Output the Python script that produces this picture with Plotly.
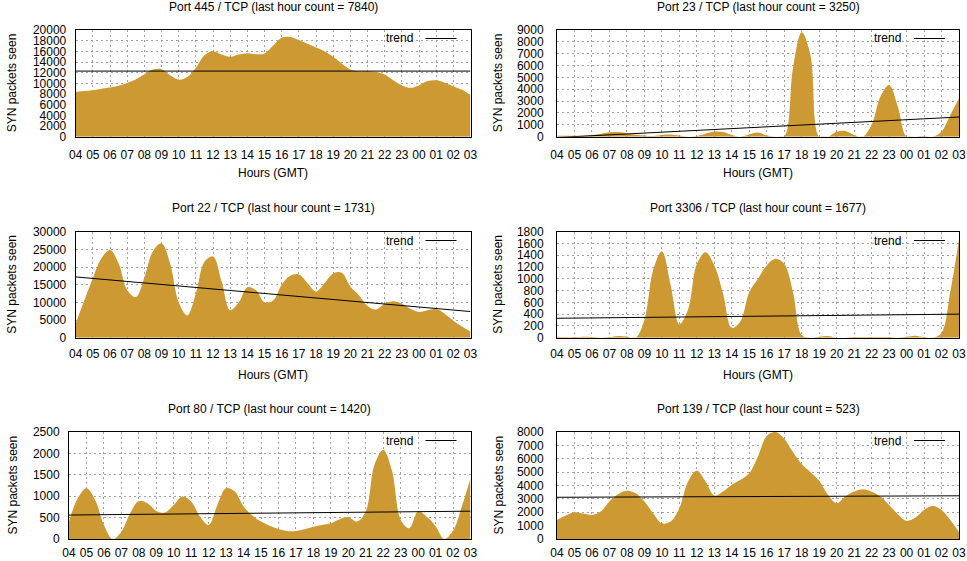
import plotly.graph_objects as go

# ---------------- data ----------------
hour_labels = ["04", "05", "06", "07", "08", "09", "10", "11", "12", "13", "14", "15",
               "16", "17", "18", "19", "20", "21", "22", "23", "00", "01", "02", "03"]
hour_ticks = list(range(24))

# samples every half hour, hours since 04:00 GMT
sample_hours = [0, 0.5, 1, 1.5, 2, 2.5, 3, 3.5, 4, 4.5, 5, 5.5, 6, 6.5, 7, 7.5, 8, 8.5,
                9, 9.5, 10, 10.5, 11, 11.5, 12, 12.5, 13, 13.5, 14, 14.5, 15, 15.5, 16,
                16.5, 17, 17.5, 18, 18.5, 19, 19.5, 20, 20.5, 21, 21.5, 22, 22.5, 23]

port445 = [8400, 8550, 8700, 9000, 9200, 9550, 10060, 10700, 11700, 12580, 12640, 11500,
           10700, 11200, 12900, 15280, 16040, 15400, 14970, 15400, 15660, 15470, 15600,
           17040, 18550, 18680, 18110, 17420, 16730, 16040, 14970, 13700, 12580, 12260,
           12260, 12140, 11640, 10570, 9620, 9180, 9620, 10440, 10570, 10130, 9430, 8800, 7840]

port23 = [80, 80, 80, 80, 150, 230, 370, 400, 280, 170, 110, 60, 150, 180, 100, 0, 50, 250,
          430, 400, 150, 0, 200, 350, 110, 0, 0, 5765, 8800, 6900, 0, 0, 420, 480, 140, 0,
          1000, 3370, 4360, 2530, 0, 0, 60, 0, 420, 1830, 3250]

port22 = [4000, 10500, 16900, 22500, 24800, 21000, 13500, 11500, 17000, 24500, 26700, 21000,
          10000, 6300, 12500, 21500, 23000, 16000, 7800, 10000, 14300, 13500, 10000, 10500,
          15000, 17500, 17900, 15500, 13100, 15500, 18200, 18400, 14500, 12000, 9000, 8000,
          9600, 10300, 9600, 8200, 7300, 7800, 8100, 6800, 4800, 3200, 1731]

port3306 = [15, 10, 10, 15, 10, 0, 10, 30, 20, 0, 300, 1150, 1470, 900, 230, 480, 1250,
            1450, 1230, 750, 165, 280, 776, 1000, 1226, 1340, 1254, 776, 45, 0, 17, 30, 0,
            0, 12, 12, 12, 12, 12, 0, 15, 35, 10, 0, 80, 776, 1677]

port80 = [406, 953, 1187, 914, 328, 0, 170, 600, 890, 836, 656, 620, 797, 992, 875, 523,
          328, 797, 1187, 1109, 758, 547, 406, 312, 234, 188, 188, 227, 289, 328, 367, 461,
          516, 406, 640, 1734, 2086, 1600, 450, 250, 640, 520, 300, 0, 190, 758, 1420]

port139 = [1425, 1750, 2000, 1900, 1800, 2050, 2800, 3350, 3600, 3425, 2800, 1925, 1175,
           1300, 2300, 4300, 5100, 4300, 3250, 3550, 4050, 4425, 4925, 6175, 7700, 8000,
           7500, 6500, 5600, 5000, 4350, 3300, 2675, 3175, 3550, 3725, 3550, 3175, 2550,
           1850, 1350, 1600, 2175, 2475, 2175, 1425, 523]

titles = ["Port 445 / TCP (last hour count = 7840)", "Port 23 / TCP (last hour count = 3250)",
          "Port 22 / TCP (last hour count = 1731)", "Port 3306 / TCP (last hour count = 1677)",
          "Port 80 / TCP (last hour count = 1420)", "Port 139 / TCP (last hour count = 523)"]
series = [port445, port23, port22, port3306, port80, port139]
trend_start = [12300, -70, 17200, 330, 560, 3120]
trend_end = [12300, 1660, 7400, 400, 650, 3230]
y_max = [20000, 9000, 30000, 1800, 2500, 8000]
y_step = [2000, 1000, 5000, 200, 500, 1000]

# ---------------- layout ----------------
W, H = 967, 561
FILL = "#cc9933"
FONT = "Liberation Sans, Arial, sans-serif"
# plot-area pixel boxes: left, top, right, bottom
boxes = [(75.7, 30, 470.5, 136.7), (557, 30, 959, 136.7),
         (75.7, 231.7, 470.5, 337.7), (557, 231.7, 959, 337.7),
         (69, 432, 470.5, 539), (557, 432, 959, 539)]
title_y = [7, 7, 208.3, 208.3, 409, 409]
ylab_x = [12, 498, 12, 498, 12, 498]
xtitle_y = [173, 173, 375, 375, None, None]
xlab_standoff = [7, 7, 5, 5, 3, 3]


def px(x):
    return x / W


def py(y):
    return 1 - y / H


fig = go.Figure()
layout = dict(width=W, height=H, margin=dict(l=0, r=0, t=0, b=0, autoexpand=False),
              paper_bgcolor="white", plot_bgcolor="white", showlegend=False,
              font=dict(family=FONT, size=12, color="black"))
annotations = []
shapes = []

for i in range(6):
    n = i + 1
    xa = "x" if n == 1 else f"x{n}"
    ya = "y" if n == 1 else f"y{n}"
    l, t, r, b = boxes[i]
    fig.add_trace(go.Scatter(x=sample_hours, y=series[i], mode="lines",
                             line=dict(shape="spline", smoothing=1.0, width=0, color=FILL),
                             fill="tozeroy", fillcolor=FILL, xaxis=xa, yaxis=ya,
                             hoverinfo="skip"))
    fig.add_trace(go.Scatter(x=[hour_ticks[0], hour_ticks[-1]], y=[trend_start[i], trend_end[i]],
                             mode="lines", line=dict(color="black", width=1),
                             xaxis=xa, yaxis=ya, name="trend"))
    std = 6 if i % 2 == 0 else 10
    layout[f"xaxis{'' if n == 1 else n}"] = dict(
        domain=[px(l), px(r)], anchor=ya, range=[0, 23], tickmode="array",
        tickvals=hour_ticks, ticktext=hour_labels, showgrid=True, gridcolor="#a0a0a0",
        griddash="2px,3px", gridwidth=1, zeroline=False, showline=True, linecolor="black",
        linewidth=1, mirror=True, ticks="", ticklabelstandoff=xlab_standoff[i],
        automargin=False, tickfont=dict(family=FONT, size=12, color="black"))
    layout[f"yaxis{'' if n == 1 else n}"] = dict(
        domain=[py(b), py(t)], anchor=xa, range=[0, y_max[i]], dtick=y_step[i], tick0=0,
        tickformat="d", showgrid=True, gridcolor="#a0a0a0", griddash="2px,3px", gridwidth=1,
        zeroline=False, showline=True, linecolor="black", linewidth=1, mirror=True,
        ticks="", ticklabelstandoff=std, automargin=False,
        tickfont=dict(family=FONT, size=12, color="black"))
    cx = (l + r) / 2
    annotations.append(dict(text=titles[i], x=px(cx), y=py(title_y[i]), xref="paper",
                            yref="paper", xanchor="center", yanchor="middle", showarrow=False,
                            font=dict(family=FONT, size=12, color="black")))
    annotations.append(dict(text="SYN packets seen", x=px(ylab_x[i]), y=py((t + b) / 2),
                            xref="paper", yref="paper", xanchor="center", yanchor="middle",
                            textangle=-90, showarrow=False,
                            font=dict(family=FONT, size=12, color="black")))
    if xtitle_y[i] is not None:
        annotations.append(dict(text="Hours (GMT)", x=px(cx), y=py(xtitle_y[i]), xref="paper",
                                yref="paper", xanchor="center", yanchor="middle",
                                showarrow=False, font=dict(family=FONT, size=12, color="black")))
    # legend entry: "trend" text followed by line sample, top-right inside plot
    ly = round(t) + 8.5
    annotations.append(dict(text="trend", x=px(r - 56), y=py(ly), xref="paper", yref="paper",
                            xanchor="right", yanchor="middle", showarrow=False,
                            font=dict(family=FONT, size=12, color="black")))
    shapes.append(dict(type="line", xref="paper", yref="paper", x0=px(r - 45), x1=px(r - 14),
                       y0=py(ly), y1=py(ly), line=dict(color="black", width=1)))

layout["annotations"] = annotations
layout["shapes"] = shapes
fig.update_layout(**layout)
fig.write_html("out.html", config={"displayModeBar": False},
               post_script="document.body.style.margin='0';document.body.style.overflow='hidden';")
